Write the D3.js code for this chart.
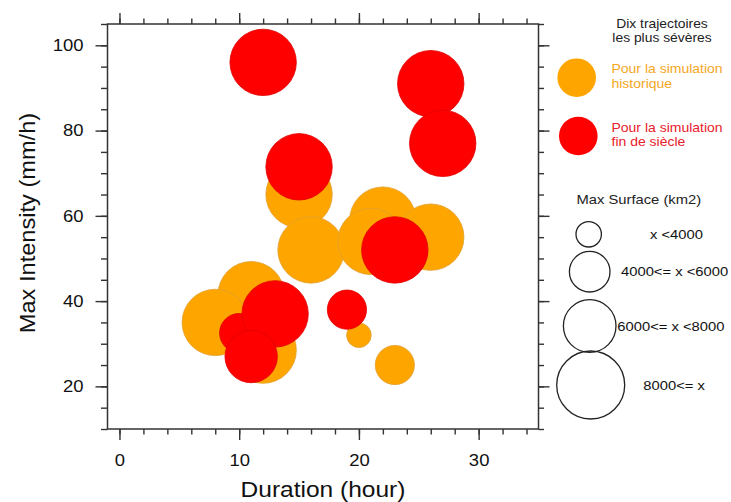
<!DOCTYPE html>
<html>
<head>
<meta charset="utf-8">
<script src="https://cdn.jsdelivr.net/npm/d3@7"></script>
<style>
  html, body { margin: 0; padding: 0; background: #fff; }
  svg { display: block; font-family: "Liberation Sans", Arial, Helvetica, sans-serif; }
</style>
</head>
<body>
<svg id="chart" width="731" height="502"></svg>
<script>
// ---- data ----
const histDuration  = [15, 16, 22, 26, 21, 11, 8, 12, 20, 23];
const histIntensity = [65, 52, 59, 55, 54, 41.5, 35, 28.5, 32, 25];
const histSurface   = [3, 3, 3, 3, 3, 3, 3, 3, 0, 1];   // surface class index

const futDuration   = [12, 26, 27, 15, 23, 19, 10, 13, 11];
const futIntensity  = [96, 91, 77, 71.5, 52, 38, 32.5, 37, 27];
const futSurface    = [3, 3, 3, 3, 3, 1, 1, 3, 2];

const surfaceLabels = ["x <4000", "4000<= x <6000", "6000<= x <8000", "8000<= x"];
const xTicks = [0, 10, 20, 30];
const yTicks = [20, 40, 60, 80, 100];
const xMinorTicks = d3.range(0, 35, 2);
const yMinorTicks = d3.range(10, 105.1, 5);

const seriesNames = ["Pour la simulation|historique", "Pour la simulation|fin de siècle"];
const legendTitle = ["Dix trajectoires", "les plus sévères"];
const sizeTitle = "Max Surface (km2)";
const xTitle = "Duration (hour)";
const yTitle = "Max Intensity (mm/h)";

// ---- layout ----
const svg = d3.select("#chart");
const L = 107.5, R = 538.5, T = 24, B = 429;
const x = d3.scaleLinear().domain([-1, 35]).range([L, R]);
const y = d3.scaleLinear().domain([10, 105]).range([B, T]);
const rScale = d3.scaleOrdinal().domain([0, 1, 2, 3]).range([12.3, 19.6, 26.2, 33.2]);
const fills = ["#FFA500", "#FF0000"];
const strokes = ["#DFA030", "#E00000"];
const textCols = ["#F5A623", "#E8202A"];

// stretched text helper (reference glyphs are wider than Arial)
function stext(parent, px, py, str, size, k, anchor, fill, rot) {
  const g = parent.append("g")
    .attr("transform", `translate(${px},${py})` + (rot ? ` rotate(${rot})` : "") + ` scale(${k},1)`);
  return g.append("text").attr("x", 0).attr("y", 0)
    .attr("text-anchor", anchor || "start")
    .style("font-size", size + "px").attr("fill", fill || "#111").text(str);
}

// ---- bubbles ----
const hist = histDuration.map((d, i) => ({d, v: histIntensity[i], s: histSurface[i]}));
const fut = futDuration.map((d, i) => ({d, v: futIntensity[i], s: futSurface[i]}));

const plot = svg.append("g");
plot.selectAll("circle.h").data(hist).join("circle")
  .attr("class", "h")
  .attr("cx", p => x(p.d)).attr("cy", p => y(p.v)).attr("r", p => rScale(p.s))
  .attr("fill", fills[0]).attr("stroke", strokes[0]).attr("stroke-width", 0.8);
plot.selectAll("circle.f").data(fut).join("circle")
  .attr("class", "f")
  .attr("cx", p => x(p.d)).attr("cy", p => y(p.v)).attr("r", p => rScale(p.s))
  .attr("fill", fills[1]).attr("stroke", strokes[1]).attr("stroke-width", 0.8);

// ---- axes ----
const axisCol = "#333";
const tickK = 1.12;
function styleAxis(g) {
  g.select(".domain").remove();
  g.selectAll("line").attr("stroke", axisCol).attr("stroke-width", 1.4);
  g.selectAll("text").attr("fill", "#111").style("font-size", "16.5px")
    .style("font-family", '"Liberation Sans", Arial, Helvetica, sans-serif');
}
// bottom
svg.append("g").attr("transform", `translate(0,${B})`)
  .call(d3.axisBottom(x).tickValues(xMinorTicks).tickSize(5.5).tickFormat("")).call(styleAxis);
svg.append("g").attr("transform", `translate(0,${B})`)
  .call(d3.axisBottom(x).tickValues(xTicks).tickSize(11).tickPadding(14.5).tickFormat(d3.format("d")))
  .call(styleAxis)
  .call(g => g.selectAll("text").attr("transform", `scale(${tickK},1)`));
// top
svg.append("g").attr("transform", `translate(0,${T})`)
  .call(d3.axisTop(x).tickValues(xMinorTicks).tickSize(5.5).tickFormat("")).call(styleAxis);
svg.append("g").attr("transform", `translate(0,${T})`)
  .call(d3.axisTop(x).tickValues(xTicks).tickSize(11).tickFormat("")).call(styleAxis);
// left
svg.append("g").attr("transform", `translate(${L},0)`)
  .call(d3.axisLeft(y).tickValues(yMinorTicks).tickSize(6.5).tickFormat("")).call(styleAxis);
svg.append("g").attr("transform", `translate(${L},0)`)
  .call(d3.axisLeft(y).tickValues(yTicks).tickSize(12).tickPadding(12).tickFormat(d3.format("d")))
  .call(styleAxis)
  .call(g => g.selectAll("text").attr("x", -24 / tickK).attr("transform", `scale(${tickK},1)`));
// right
svg.append("g").attr("transform", `translate(${R},0)`)
  .call(d3.axisRight(y).tickValues(yMinorTicks).tickSize(5.5).tickFormat("")).call(styleAxis);
svg.append("g").attr("transform", `translate(${R},0)`)
  .call(d3.axisRight(y).tickValues(yTicks).tickSize(11).tickFormat("")).call(styleAxis);

svg.append("rect").attr("x", L).attr("y", T).attr("width", R - L).attr("height", B - T)
  .attr("fill", "none").attr("stroke", axisCol).attr("stroke-width", 1.5);

// axis titles
stext(svg, (L + R) / 2, 496.5, xTitle, 22.5, 1.09, "middle");
stext(svg, 34.5, 223, yTitle, 22.5, 1.05, "middle", "#111", -90);

// ---- legend: series ----
const leg = svg.append("g");
legendTitle.forEach((t, i) => stext(leg, 662, 28.3 + i * 14, t, 12.6, 1.1, "middle", "#222"));

const serY = [77.7, 136];
const serX = [576.7, 578.3];
seriesNames.forEach((name, i) => {
  leg.append("circle").attr("cx", serX[i]).attr("cy", serY[i]).attr("r", 19.3).attr("fill", fills[i]);
  name.split("|").forEach((line, j) => {
    stext(leg, 611.5, serY[i] - 4.4 + j * 14.8, line, 12.6, 1.11, "start", textCols[i]);
  });
});

// ---- legend: sizes ----
stext(leg, 638.8, 204, sizeTitle, 13.2, 1.12, "middle", "#222");
const sizeCy = [234.3, 271.7, 326, 385];
const sizeCx = [588.7, 589.7, 589.7, 590.7];
const sizeLx = [650, 621, 617.3, 643.3];
const sizeR = [12.7, 20.3, 26.3, 34];
surfaceLabels.forEach((lab, i) => {
  leg.append("circle").attr("cx", sizeCx[i]).attr("cy", sizeCy[i]).attr("r", sizeR[i])
    .attr("fill", "none").attr("stroke", "#222").attr("stroke-width", 1.3);
  stext(leg, sizeLx[i], sizeCy[i] + 4.7, lab, 13.2, 1.12, "start", "#111");
});
</script>
</body>
</html>
